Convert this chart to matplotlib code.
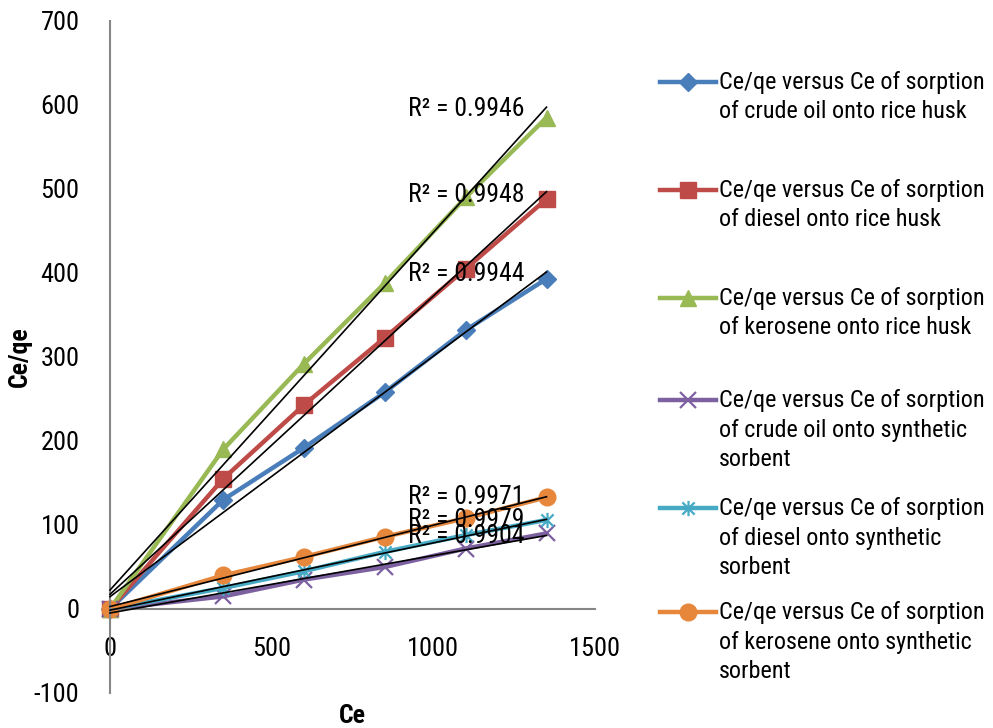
import matplotlib
matplotlib.use("Agg")
import matplotlib.pyplot as plt
import numpy as np
from matplotlib.lines import Line2D
from matplotlib.path import Path

plt.rcParams['font.family'] = ['Roboto Condensed', 'Liberation Sans', 'DejaVu Sans']

# ---- data ----
ce = [0, 350, 600, 850, 1100, 1350]
crude_rice = [0, 130, 192, 258, 332, 393]
diesel_rice = [0, 155, 243, 323, 405, 488]
kero_rice = [0, 190, 292, 388, 490, 585]
crude_syn = [0, 15, 35, 50, 72, 90]
diesel_syn = [0, 25, 45, 68, 88, 106]
kero_syn = [0, 40, 62, 86, 108, 133]

labels = [
    "Ce/qe versus Ce of sorption\nof crude oil onto rice husk",
    "Ce/qe versus Ce of sorption\nof diesel onto rice husk",
    "Ce/qe versus Ce of sorption\nof kerosene onto rice husk",
    "Ce/qe versus Ce of sorption\nof crude oil onto synthetic\nsorbent",
    "Ce/qe versus Ce of sorption\nof diesel onto synthetic\nsorbent",
    "Ce/qe versus Ce of sorption\nof kerosene onto synthetic\nsorbent",
]
r2_labels = ["R² = 0.9944", "R² = 0.9948", "R² = 0.9946",
             "R² = 0.9904", "R² = 0.9979", "R² = 0.9971"]
r2_pos_y = [399, 493, 595, 87, 106, 133]
r2_pos_x = 922

xticks = [0, 500, 1000, 1500]
yticks = [-100, 0, 100, 200, 300, 400, 500, 600, 700]

# ---- styles ----
star = Path([(-1, -1), (1, 1), (-1, 1), (1, -1), (0, -1.25), (0, 1.25)],
            [Path.MOVETO, Path.LINETO, Path.MOVETO, Path.LINETO, Path.MOVETO, Path.LINETO])
series = [crude_rice, diesel_rice, kero_rice, crude_syn, diesel_syn, kero_syn]
colors = ['#4A7EBB', '#BE4B48', '#98B954', '#7D60A0', '#46AAC5', '#E6873B']
markers = ['D', 's', '^', 'x', star, 'o']
msizes = [9, 12, 12, 11, 11, 12]
medge = [1, 1, 1, 1.6, 1.6, 1]

fig = plt.figure(figsize=(9.93, 7.28), dpi=100)
W, H = 993, 728
ax = fig.add_axes([110 / W, 1 - 693 / H, 485 / W, 672 / H])
ax.set_xlim(0, 1500)
ax.set_ylim(-100, 700)

for ys, c, m, ms, me in zip(series, colors, markers, msizes, medge):
    ax.plot(ce, ys, color=c, lw=3.2, marker=m, ms=ms, mfc=c, mec=c, mew=me,
            solid_joinstyle='round', zorder=2, clip_on=False)

xfit = np.array([0, 1350])
for ys in series:
    k, b = np.polyfit(ce, ys, 1)
    ax.plot(xfit, k * xfit + b, color='black', lw=1.2, zorder=3, clip_on=False)

for t, y in zip(r2_labels, r2_pos_y):
    ax.text(r2_pos_x, y, t, fontsize=18.5, va='center', ha='left', zorder=4)

for s in ['top', 'right']:
    ax.spines[s].set_visible(False)
ax.spines['bottom'].set_position(('data', 0))
ax.spines['left'].set_position(('data', 0))
for s in ['bottom', 'left']:
    ax.spines[s].set_color('#868686')
    ax.spines[s].set_linewidth(1.5)
ax.set_xticks(xticks)
ax.set_yticks(yticks)
ax.set_yticklabels([str(v) for v in yticks])
ax.tick_params(axis='both', length=0, labelsize=19)
ax.tick_params(axis='y', pad=22)
ax.tick_params(axis='x', pad=20)

fig.text(352 / W, 1 - 716 / H, "Ce", fontsize=18.5, fontweight='bold', ha='center', va='center')
fig.text(20 / W, 1 - 357 / H, "Ce/qe", fontsize=18.5, fontweight='bold', ha='center', va='center',
         rotation=90)

# ---- legend (manual) ----
entry_y = [82, 190, 298, 400, 508, 612]
line_gap = 30
for lab, c, m, ms, me, ey in zip(labels, colors, markers, msizes, medge, entry_y):
    yf = 1 - ey / H
    fig.add_artist(Line2D([660 / W, 716 / W], [yf, yf], color=c, lw=3.2,
                          transform=fig.transFigure))
    fig.add_artist(Line2D([688 / W], [yf], color=c, marker=m, ms=ms, mfc=c, mec=c, mew=me,
                          transform=fig.transFigure))
    for i, ln in enumerate(lab.split("\n")):
        fig.text(719 / W, 1 - (ey + i * line_gap) / H, ln, fontsize=17.4, ha='left', va='center')

fig.savefig("out.png", dpi=100)
